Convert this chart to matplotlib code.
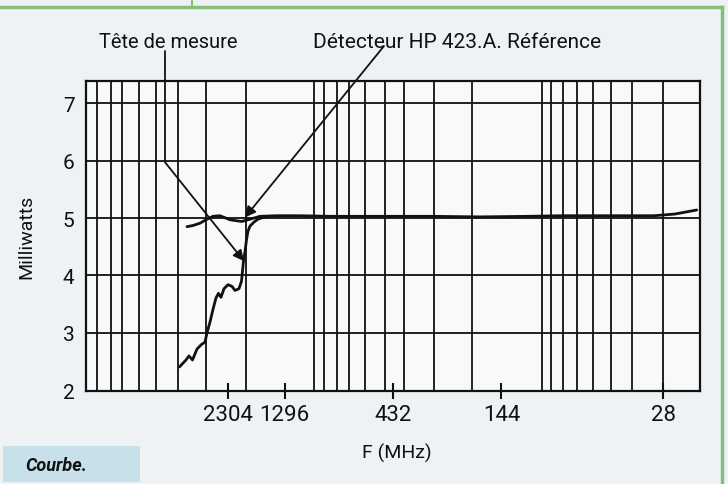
import matplotlib
matplotlib.use("Agg")
import matplotlib.pyplot as plt
from matplotlib.patches import Rectangle
from matplotlib.lines import Line2D

plt.rcParams["font.family"] = ["Roboto", "DejaVu Sans"]

# HP 423.A reference detector, power (mW) vs frequency (MHz)
ref_freq = [3489, 3284, 3058, 2877, 2681, 2497, 2256, 2004, 1842, 1665, 1406, 1110,
            819, 493, 297, 179, 108, 79.6, 53.1, 35.4, 30.7, 24.8, 19.9]
ref_mw = [4.85, 4.87, 4.91, 4.97, 5.03, 5.04, 4.97, 4.94, 4.98, 5.03, 5.04, 5.04,
          5.03, 5.03, 5.03, 5.02, 5.03, 5.04, 5.04, 5.04, 5.04, 5.07, 5.14]

# measuring head, same sweep
head_freq = [3764, 3525, 3420, 3300, 3153, 3012, 2907, 2849, 2763, 2681, 2600, 2535,
             2472, 2398, 2302, 2211, 2145, 2060, 2008, 1984, 1968, 1939, 1909, 1881,
             1842, 1769, 1699, 1615, 1504]
head_mw = [2.41, 2.53, 2.60, 2.53, 2.72, 2.80, 2.84, 3.00, 3.19, 3.41, 3.61, 3.69,
           3.62, 3.77, 3.84, 3.81, 3.74, 3.77, 3.90, 4.11, 4.25, 4.41, 4.62, 4.77,
           4.86, 4.93, 4.98, 5.01, 5.03]

tick_freq = [2304, 1296, 432, 144, 28]
tick_labels = ["2304", "1296", "432", "144", "28"]
y_ticks = [2, 3, 4, 5, 6, 7]

# vertical rulings of the chart paper (MHz)
paper_freq = [8711, 7558, 6742, 5691, 4762, 3833, 2868, 1924, 963, 870, 765, 675,
              574, 469, 386, 285, 194, 95.8, 87.5, 77.5, 67.2, 57.1, 47.6, 38.5, 28.1]

W, H = 728, 485
fig = plt.figure(figsize=(W / 100, H / 100), dpi=100)
fig.patch.set_facecolor("#eef2f4")

ax = fig.add_axes([85.7 / W, 1 - 392 / H, (700 - 85.7) / W, (392 - 81.7) / H])
ax.set_facecolor("#f8f9f9")
ax.set_xscale("log")
ax.set_xlim(9739, 19.26)
ax.set_ylim(1.99, 7.39)

ink = "#111111"
for f in paper_freq:
    ax.axvline(f, color=ink, lw=1.3, zorder=1)
for v in y_ticks[1:]:
    ax.axhline(v, color=ink, lw=1.3, zorder=1)

ax.plot(ref_freq, ref_mw, color=ink, lw=2.0, zorder=3, solid_capstyle="round")
ax.plot(head_freq, head_mw, color=ink, lw=2.0, zorder=3, solid_capstyle="round")

for s in ax.spines.values():
    s.set_linewidth(1.6)
    s.set_color(ink)

ax.set_xticks(tick_freq)
ax.set_xticklabels(tick_labels)
ax.xaxis.set_minor_locator(matplotlib.ticker.NullLocator())
ax.set_yticks(y_ticks)
ax.tick_params(axis="x", direction="inout", length=11, width=1.5, pad=4,
               labelsize=16, colors=ink)
ax.tick_params(axis="y", length=0, pad=8, labelsize=15, colors=ink)

ax.set_ylabel("Milliwatts", fontsize=14, color=ink, labelpad=20)
fig.text(397 / W, 1 - 453 / H, "F (MHz)", fontsize=14, color=ink,
         ha="center", va="center")

# leaders
arrow_kw = dict(arrowstyle="-|>", color=ink, lw=1.3, mutation_scale=16,
                shrinkA=0, shrinkB=0)
ax.annotate("", xy=(1958, 4.25), xycoords="data",
            xytext=(165, H - 52), textcoords="figure pixels",
            arrowprops=dict(connectionstyle="angle,angleA=90,angleB=-51.4,rad=0",
                            **arrow_kw), annotation_clip=False)
ax.annotate("", xy=(1939, 5.01), xycoords="data",
            xytext=(384, H - 47), textcoords="figure pixels",
            arrowprops=dict(connectionstyle="arc3", **arrow_kw),
            annotation_clip=False)
fig.text(168 / W, 1 - 42 / H, "Tête de mesure", fontsize=14.5, color=ink,
         ha="center", va="center")
fig.text(313 / W, 1 - 42 / H, "Détecteur HP 423.A. Référence", fontsize=15,
         color=ink, ha="left", va="center")

# page frame
green = "#86be7c"
fig.add_artist(Line2D([0, 722 / W], [1 - 8 / H] * 2, color=green, lw=2.5))
fig.add_artist(Line2D([722 / W] * 2, [0, 1 - 8 / H], color=green, lw=2.5))
fig.add_artist(Line2D([192 / W] * 2, [1 - 8 / H, 1], color=green, lw=1.5))
fig.add_artist(Rectangle((3 / W, 1 - 483 / H), 137 / W, 36 / H,
                         facecolor="#c8e0e9", edgecolor="none"))
fig.text(25 / W, 1 - 466 / H, "Courbe.", fontsize=13, fontweight="bold",
         fontstyle="italic", color=ink, ha="left", va="center")

fig.savefig("out.png", dpi=100, facecolor=fig.get_facecolor())
